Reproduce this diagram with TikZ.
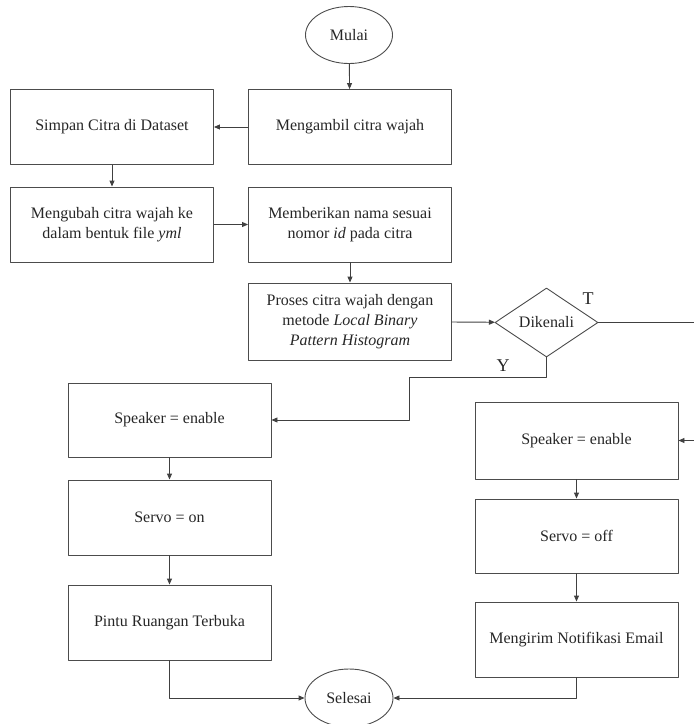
\documentclass[tikz,border=0pt]{standalone}
\usepackage{fontspec}
\setmainfont{Liberation Serif}
\usetikzlibrary{shapes.geometric,arrows.meta}
\begin{document}
\begin{tikzpicture}[x=1pt, y=-1pt, line join=round, font=\fontsize{16}{20}\selectfont,
  every node/.style={text=black!85},
  proses/.style={draw=black!70, line width=0.9pt, rectangle, align=center, minimum width=203, minimum height=75, inner sep=2pt},
  terminal/.style={draw=black!70, line width=0.9pt, ellipse, minimum width=87, minimum height=57, inner sep=0pt},
  keputusan/.style={draw=black!70, line width=0.9pt, diamond, minimum width=103, minimum height=69, inner sep=0pt},
  garis/.style={draw=black!75, line width=0.9pt},
  panah/.style={garis, -{Triangle[length=6pt,width=5pt]}}]
  \useasboundingbox (0,0) rectangle (694,724);
  \node[terminal] (mulai) at (349,35) {Mulai};
  \node[proses] (ambil) at (350,127) {Mengambil citra wajah};
  \node[proses] (simpan) at (112,127) {Simpan Citra di Dataset};
  \node[proses] (ubah) at (112,224.5) {Mengubah citra wajah ke\\dalam bentuk file \textit{yml}};
  \node[proses] (nama) at (350,224.5) {Memberikan nama sesuai\\nomor \textit{id} pada citra};
  \node[proses, minimum height=77] (olah) at (350,321.5) {Proses citra wajah dengan\\metode \textit{Local Binary}\\\textit{Pattern Histogram}};
  \node[keputusan] (kenal) at (546.5,322.5) {Dikenali};
  \node[proses, minimum height=74] (spkA) at (169.5,420) {Speaker = enable};
  \node[proses] (servoA) at (169.5,517.5) {Servo = on};
  \node[proses] (pintu) at (169.5,622.5) {Pintu Ruangan Terbuka};
  \node[proses, minimum height=77] (spkB) at (576.5,440.5) {Speaker = enable};
  \node[proses, minimum height=74] (servoB) at (576.5,536) {Servo = off};
  \node[proses] (kirim) at (576.5,639.5) {Mengirim Notifikasi Email};
  \node[terminal, minimum width=88, minimum height=58] (selesai) at (349,698) {Selesai};
  \coordinate (ujungT) at (694,322.5);
  \coordinate (masukT) at (694,440.5);
  \coordinate (belokY) at (409,377);
  \draw[panah] (mulai) -- (ambil);
  \draw[panah] (ambil) -- (simpan);
  \draw[panah] (simpan) -- (ubah);
  \draw[panah] (ubah) -- (nama);
  \draw[panah] (nama) -- (olah);
  \draw[panah] (olah) -- (kenal);
  \draw[garis] (kenal.east) -- (ujungT);
  \draw[panah] (masukT) -- (spkB.east);
  \draw[panah] (kenal.south) |- (belokY) |- (spkA.east);
  \draw[panah] (spkA) -- (servoA);
  \draw[panah] (servoA) -- (pintu);
  \draw[panah] (spkB) -- (servoB);
  \draw[panah] (servoB) -- (kirim);
  \draw[panah] (pintu.south) |- (selesai.west);
  \draw[panah] (kirim.south) |- (selesai.east);
  \node[font=\fontsize{18}{20}\selectfont] (labelT) at (588,299) {T};
  \node[font=\fontsize{18}{20}\selectfont] (labelY) at (503,366) {Y};
\end{tikzpicture}
\end{document}
